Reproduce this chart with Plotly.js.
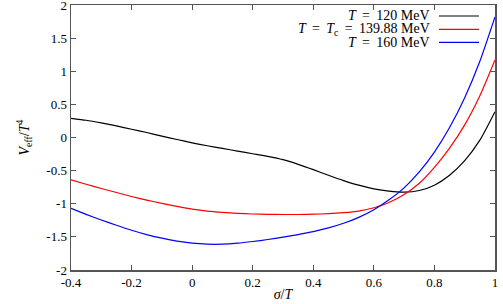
<!DOCTYPE html>
<html>
<head>
<meta charset="utf-8">
<script src="https://cdn.plot.ly/plotly-3.0.1.min.js"></script>
<style>html,body{margin:0;padding:0;background:#fff;}#chart{width:503px;height:304px;}</style>
</head>
<body>
<div id="chart"></div>
<script>
// sigma/T grid shared by all three curves
const sigmaOverT = [-0.40,-0.35,-0.30,-0.25,-0.20,-0.15,-0.10,-0.05,0.00,0.05,0.10,0.15,0.20,0.25,0.30,0.35,0.40,0.45,0.50,0.55,0.60,0.65,0.70,0.75,0.80,0.85,0.90,0.95,1.00];
// V_eff/T^4
const vT120 = [0.29,0.26,0.22,0.175,0.125,0.075,0.02,-0.03,-0.08,-0.125,-0.165,-0.205,-0.245,-0.285,-0.335,-0.405,-0.485,-0.57,-0.65,-0.72,-0.775,-0.81,-0.825,-0.80,-0.72,-0.57,-0.35,-0.04,0.39];
const vTc = [-0.64,-0.705,-0.77,-0.83,-0.89,-0.945,-0.995,-1.04,-1.08,-1.11,-1.13,-1.145,-1.155,-1.16,-1.162,-1.162,-1.158,-1.15,-1.135,-1.11,-1.06,-0.98,-0.86,-0.69,-0.45,-0.16,0.19,0.63,1.17];
const vT160 = [-1.07,-1.16,-1.245,-1.325,-1.40,-1.465,-1.52,-1.565,-1.595,-1.61,-1.61,-1.595,-1.57,-1.54,-1.505,-1.465,-1.42,-1.365,-1.295,-1.205,-1.09,-0.94,-0.76,-0.52,-0.22,0.15,0.60,1.15,1.82];

const seriesNames = [
  '<i>T</i>&#8201; = &#8201;120 MeV',
  '<i>T</i>&#8201; = &#8201;<i>T</i><sub>c</sub>&#8201; = &#8201;139.88 MeV',
  '<i>T</i>&#8201; = &#8201;160 MeV'
];
const seriesColors = ['#000000', '#ff0000', '#0000ff'];

const xTickVals = [-0.4,-0.2,0,0.2,0.4,0.6,0.8,1];
const xTickText = ['-0.4','-0.2','0','0.2','0.4','0.6','0.8','1'];
const yTickVals = [-2,-1.5,-1,-0.5,0,0.5,1,1.5,2];
const yTickText = ['-2','-1.5','-1','-0.5','0','0.5','1','1.5','2'];

const FONT = 'Liberation Serif, DejaVu Serif, serif';
const axisColor = '#555555';

const ys = [vT120, vTc, vT160];
const traces = ys.map((y, i) => ({
  x: sigmaOverT, y: y, type: 'scatter', mode: 'lines', name: seriesNames[i],
  line: {color: seriesColors[i], width: 1.2, shape: 'spline', smoothing: 0.6},
  showlegend: false, hoverinfo: 'skip', cliponaxis: true
}));

// gnuplot-style key: text right-aligned, sample line to the right
const annotations = [];
const shapes = [];
const rowY = [16, 29.3, 42.3];
const plotTop = 5, plotH = 265, plotL = 71, plotW = 424;
seriesNames.forEach((n, i) => {
  const py = 1 - (rowY[i] - plotTop) / plotH;
  annotations.push({
    xref: 'paper', yref: 'paper', x: (432 - plotL) / plotW, y: py,
    xanchor: 'right', yanchor: 'middle', text: n, showarrow: false,
    font: {family: FONT, size: 14, color: '#000'}
  });
  shapes.push({
    type: 'line', xref: 'paper', yref: 'paper',
    x0: (439 - plotL) / plotW, x1: (479 - plotL) / plotW, y0: py, y1: py,
    line: {color: seriesColors[i], width: 1.2}
  });
});

const layout = {
  width: 503, height: 304,
  margin: {l: 71, r: 8, t: 5, b: 34},
  paper_bgcolor: '#fff', plot_bgcolor: '#fff',
  font: {family: FONT, size: 13, color: '#000'},
  xaxis: {
    range: [-0.4, 1], tickvals: xTickVals, ticktext: xTickText,
    ticks: 'inside', ticklen: 5, tickcolor: axisColor, tickwidth: 1,
    showline: true, linecolor: axisColor, linewidth: 1.5, mirror: 'ticks',
    showgrid: false, zeroline: false, ticklabeloverflow: 'allow',
    tickfont: {family: FONT, size: 13},
    title: {text: '<i>σ</i>/<i>T</i>', font: {family: FONT, size: 14}, standoff: 0}
  },
  yaxis: {
    range: [-2, 2], tickvals: yTickVals, ticktext: yTickText,
    ticks: 'inside', ticklen: 5, tickcolor: axisColor, tickwidth: 1,
    showline: true, linecolor: axisColor, linewidth: 1.5, mirror: 'ticks',
    showgrid: false, zeroline: false, ticklabeloverflow: 'allow',
    tickfont: {family: FONT, size: 13},
    title: {text: '<i>V</i><sub>eff</sub>/<i>T</i><sup>4</sup>', font: {family: FONT, size: 14}, standoff: 13}
  },
  annotations: annotations,
  shapes: shapes
};

Plotly.newPlot('chart', traces, layout, {staticPlot: true, displayModeBar: false});
</script>
</body>
</html>
